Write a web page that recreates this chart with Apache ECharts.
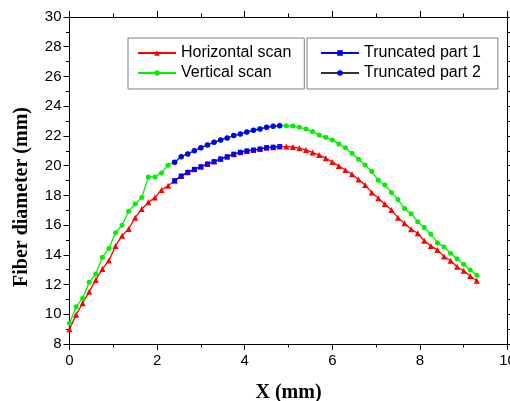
<!DOCTYPE html>
<html>
<head>
<meta charset="utf-8">
<script src="https://cdn.jsdelivr.net/npm/echarts@6/dist/echarts.min.js"></script>
<style>
html,body{margin:0;padding:0;background:#fff;overflow:hidden;}
#chart{width:510px;height:401px;}
</style>
</head>
<body>
<div id="chart"></div>
<script>
// X positions (mm)
const xValues = [0, 0.15, 0.3, 0.45, 0.6, 0.75, 0.9, 1.05, 1.2, 1.35, 1.5, 1.65, 1.8, 1.95, 2.1, 2.25,
  2.4, 2.55, 2.7, 2.85, 3.0, 3.15, 3.3, 3.45, 3.6, 3.75, 3.9, 4.05, 4.2, 4.35, 4.5, 4.65, 4.8,
  4.95, 5.1, 5.25, 5.4, 5.55, 5.7, 5.85, 6.0, 6.15, 6.3, 6.45, 6.6, 6.75, 6.9, 7.05, 7.2, 7.35,
  7.5, 7.65, 7.8, 7.95, 8.1, 8.25, 8.4, 8.55, 8.7, 8.85, 9.0, 9.15, 9.3];

const horizontalScan = [9.0, 9.97, 10.74, 11.52, 12.31, 13.05, 13.61, 14.6, 15.29, 15.74, 16.5, 17.08,
  17.53, 17.85, 18.36, 18.65, 18.99, 19.3, 19.55, 19.75, 19.93, 20.11, 20.27, 20.45, 20.6, 20.77,
  20.9, 20.99, 21.05, 21.12, 21.21, 21.24, 21.28, 21.28, 21.26, 21.17, 21.06, 20.88, 20.72, 20.5,
  20.25, 19.98, 19.71, 19.42, 19.06, 18.7, 18.2, 17.8, 17.42, 17.02, 16.5, 16.12, 15.72, 15.45,
  14.95, 14.6, 14.33, 13.88, 13.6, 13.2, 12.93, 12.58, 12.26];

const verticalScan = [9.4, 10.51, 11.07, 12.15, 12.71, 13.83, 14.42, 15.49, 15.99, 16.93, 17.42, 17.85,
  19.24, 19.24, 19.51, 20.03, 20.23, 20.6, 20.79, 21.0, 21.21, 21.39, 21.57, 21.73, 21.86, 22.02,
  22.13, 22.27, 22.38, 22.47, 22.58, 22.65, 22.69, 22.69, 22.66, 22.58, 22.47, 22.29, 22.06, 21.91,
  21.73, 21.45, 21.2, 20.83, 20.43, 20.05, 19.6, 19.02, 18.7, 18.2, 17.72, 17.12, 16.77, 16.22,
  15.84, 15.39, 14.82, 14.52, 14.1, 13.74, 13.36, 12.98, 12.63];

const truncX = [2.4, 2.55, 2.7, 2.85, 3.0, 3.15, 3.3, 3.45, 3.6, 3.75, 3.9, 4.05, 4.2, 4.35, 4.5, 4.65, 4.8];
const truncPart1 = [18.99, 19.3, 19.55, 19.75, 19.93, 20.11, 20.27, 20.45, 20.6, 20.77, 20.9, 20.99, 21.05, 21.12, 21.21, 21.24, 21.28];
const truncPart2 = [20.23, 20.6, 20.79, 21.0, 21.21, 21.39, 21.57, 21.73, 21.86, 22.02, 22.13, 22.27, 22.38, 22.47, 22.58, 22.65, 22.69];

const seriesNames = ['Horizontal scan', 'Vertical scan', 'Truncated part 1', 'Truncated part 2'];
const xTicks = {min: 0, max: 10, interval: 2};
const yTicks = {min: 8, max: 30, interval: 2};

const pair = (xs, ys) => xs.map((x, i) => [x, ys[i]]);

const chart = echarts.init(document.getElementById('chart'), null, {renderer: 'canvas'});

const axisCommon = {
  axisLine: {show: true, onZero: false, lineStyle: {color: '#000', width: 1}},
  axisTick: {show: true, inside: false, length: 6, lineStyle: {color: '#000', width: 1}},
  minorTick: {show: true, splitNumber: 2, length: 3.5, lineStyle: {color: '#000', width: 1}},
  splitLine: {show: false},
  minorSplitLine: {show: false}
};
const labelFont = {color: '#000', fontSize: 15, fontFamily: 'Liberation Sans, Arial, sans-serif'};
const legendText = {color: '#000', fontSize: 16, fontFamily: 'Liberation Sans, Arial, sans-serif'};

chart.setOption({
  animation: false,
  backgroundColor: '#fff',
  grid: {left: 69.5, right: 2.5, top: 17, bottom: 57, containLabel: false, outerBoundsMode: 'none'},
  xAxis: [
    Object.assign({
      type: 'value', position: 'bottom', min: xTicks.min, max: xTicks.max, interval: xTicks.interval,
      axisLabel: Object.assign({margin: 9}, labelFont),
      name: 'X (mm)', nameLocation: 'middle', nameGap: 39,
      nameTextStyle: {color: '#000', fontSize: 20, fontWeight: 'bold', fontFamily: 'Liberation Serif, Times New Roman, serif'}
    }, axisCommon),
    Object.assign({
      type: 'value', position: 'top', min: xTicks.min, max: xTicks.max, interval: xTicks.interval,
      axisLabel: {show: false}
    }, axisCommon)
  ],
  yAxis: [
    Object.assign({
      type: 'value', position: 'left', min: yTicks.min, max: yTicks.max, interval: yTicks.interval,
      axisLabel: Object.assign({margin: 8}, labelFont)
    }, axisCommon),
    Object.assign({
      type: 'value', position: 'right', min: yTicks.min, max: yTicks.max, interval: yTicks.interval,
      axisLabel: {show: false}
    }, axisCommon)
  ],
  graphic: [{
    type: 'text', x: 22, y: 197, rotation: Math.PI / 2,
    style: {text: 'Fiber diameter (mm)', fill: '#000', font: 'bold 20px "Liberation Serif", "Times New Roman", serif',
      textAlign: 'center', textVerticalAlign: 'middle'}
  }],
  legend: [
    {
      data: [seriesNames[0], seriesNames[1]], orient: 'vertical', left: 128, top: 38,
      padding: [7, 13, 8, 9], itemGap: 4, itemWidth: 38, itemHeight: 7,
      borderColor: '#808080', borderWidth: 1, backgroundColor: '#fff',
      textStyle: legendText
    },
    {
      data: [seriesNames[2], seriesNames[3]], orient: 'vertical', left: 307, top: 38,
      padding: [7, 17, 8, 13], itemGap: 4, itemWidth: 38, itemHeight: 7,
      borderColor: '#808080', borderWidth: 1, backgroundColor: '#fff',
      textStyle: legendText
    }
  ],
  series: [
    {
      name: seriesNames[0], type: 'line', data: pair(xValues, horizontalScan),
      symbol: 'triangle', symbolSize: 6, showAllSymbol: true,
      lineStyle: {color: '#ff0000', width: 1.3}, itemStyle: {color: '#ff0000'}, z: 2
    },
    {
      name: seriesNames[1], type: 'line', data: pair(xValues, verticalScan),
      symbol: 'circle', symbolSize: 5, showAllSymbol: true,
      lineStyle: {color: '#00f000', width: 1.3}, itemStyle: {color: '#00f000'}, z: 2
    },
    {
      name: seriesNames[2], type: 'line', data: pair(truncX, truncPart1),
      symbol: 'rect', symbolSize: 5, showAllSymbol: true,
      lineStyle: {color: '#0000ff', width: 1.3}, itemStyle: {color: '#0000ff'}, z: 3
    },
    {
      name: seriesNames[3], type: 'line', data: pair(truncX, truncPart2),
      symbol: 'circle', symbolSize: 5.5, showAllSymbol: true,
      lineStyle: {color: '#333333', width: 1.3}, itemStyle: {color: '#0000ff'}, z: 3
    }
  ]
});
</script>
</body>
</html>
